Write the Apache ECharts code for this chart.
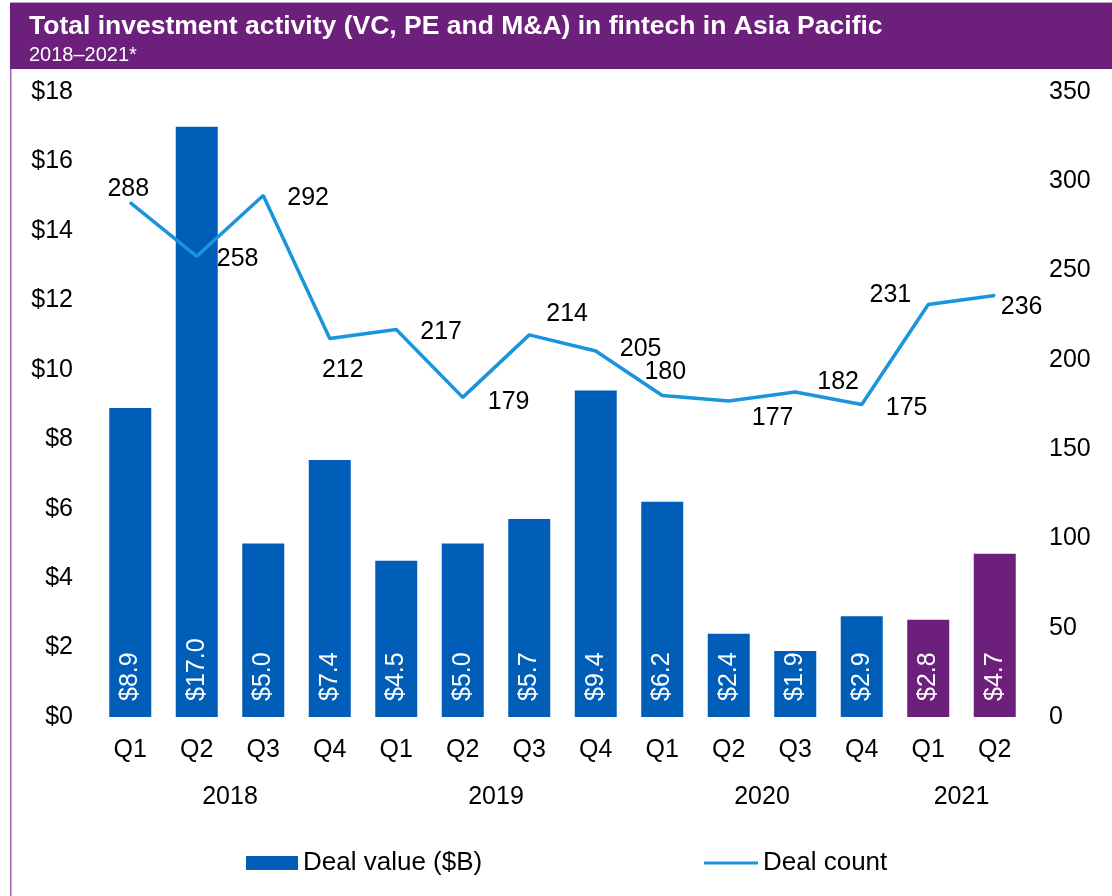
<!DOCTYPE html>
<html>
<head>
<meta charset="utf-8">
<script src="https://cdn.jsdelivr.net/npm/echarts@6/dist/echarts.min.js"></script>
<style>
  html, body { margin: 0; padding: 0; background: #ffffff; }
  #chart { width: 1112px; height: 896px; }
</style>
</head>
<body>
<div id="chart"></div>
<script>
// Quarterly fintech investment in Asia Pacific, 2018 – Q2 2021
const quarters = ['Q1', 'Q2', 'Q3', 'Q4', 'Q1', 'Q2', 'Q3', 'Q4', 'Q1', 'Q2', 'Q3', 'Q4', 'Q1', 'Q2'];
const quarterYears = ['2018', '2018', '2018', '2018', '2019', '2019', '2019', '2019', '2020', '2020', '2020', '2020', '2021', '2021'];
const years = ['2018', '2019', '2020', '2021'];
const dealValue = [8.9, 17.0, 5.0, 7.4, 4.5, 5.0, 5.7, 9.4, 6.2, 2.4, 1.9, 2.9, 2.8, 4.7];
const dealCount = [288, 258, 292, 212, 217, 179, 214, 205, 180, 177, 182, 175, 231, 236];
const valueTicks = [0, 18, 2];     // min, max, step of the $B axis
const countTicks = [0, 350, 50];   // min, max, step of the count axis

const FONT = '"Liberation Sans", Arial, sans-serif';
const BLUE = '#005EB8';
const PURPLE = '#6C1F7B';
const LINE = '#1A94DB';

// where each count label sits relative to its point
const countLabelPlacement = [
  { position: 'top', distance: 0, offset: [-2, 0] },
  { position: 'right', distance: 19, offset: [0, 3] },
  { position: 'right', distance: 23, offset: [0, 3] },
  { position: 'bottom', distance: 18, offset: [13, 0] },
  { position: 'right', distance: 23, offset: [0, 3] },
  { position: 'right', distance: 24, offset: [0, 5] },
  { position: 'right', distance: 16, offset: [0, -21] },
  { position: 'right', distance: 23, offset: [0, -2] },
  { position: 'top', distance: 10, offset: [3, 0] },
  { position: 'right', distance: 22, offset: [0, 17] },
  { position: 'right', distance: 21, offset: [0, -10] },
  { position: 'right', distance: 23, offset: [0, 4] },
  { position: 'left', distance: 16, offset: [0, -9] },
  { position: 'right', distance: 5, offset: [0, 12] }
];

// centre of each year's group of quarters, on the quarter-index scale
const yearCentres = {};
years.forEach(y => {
  const idx = quarterYears.map((q, i) => q === y ? i : -1).filter(i => i >= 0);
  yearCentres[(idx[0] + idx[idx.length - 1]) / 2] = y;
});

const chart = echarts.init(document.getElementById('chart'), null, { renderer: 'canvas' });

const option = {
  backgroundColor: '#ffffff',
  animation: false,
  textStyle: { fontFamily: FONT },
  graphic: [
    { type: 'rect', shape: { x: 10, y: 3, width: 1102, height: 66 }, style: { fill: '#6C1F7B' }, z: -1 },
    { type: 'rect', shape: { x: 10, y: 69, width: 1.5, height: 827 }, style: { fill: '#9A62A8' }, z: -1 },
    { type: 'rect', shape: { x: 10, y: 2, width: 1102, height: 1 }, style: { fill: '#B9A6BF' }, z: -1 }
  ],
  title: {
    text: 'Total investment activity (VC, PE and M&A) in fintech in Asia Pacific',
    subtext: '2018\u20132021*',
    left: 24,
    top: 8,
    itemGap: 5,
    textStyle: { color: '#ffffff', fontSize: 26.5, fontWeight: 'bold', fontFamily: FONT },
    subtextStyle: { color: '#ffffff', fontSize: 20, fontFamily: FONT }
  },
  legend: [
    {
      left: 246, top: 850, padding: 0,
      itemWidth: 52, itemHeight: 14, itemGap: 5,
      data: [{ name: 'Deal value ($B)', icon: 'rect', itemStyle: { color: BLUE } }],
      textStyle: { fontSize: 26, color: '#000', fontFamily: FONT },
      selectedMode: false
    },
    {
      left: 704, top: 850, padding: 0,
      itemWidth: 54, itemHeight: 14, itemGap: 5,
      data: [{ name: 'Deal count', icon: 'path://M0,6 L54,6 L54,9 L0,9 Z', itemStyle: { color: LINE } }],
      textStyle: { fontSize: 26, color: '#000', fontFamily: FONT },
      selectedMode: false
    }
  ],
  grid: { left: 97, right: 84, top: 92, bottom: 179, containLabel: false },
  xAxis: [
    {
      type: 'category',
      data: quarters,
      axisLine: { show: false },
      axisTick: { show: false },
      axisLabel: { color: '#000', fontSize: 25, margin: 21, fontFamily: FONT, interval: 0 }
    },
    {
      type: 'value',
      position: 'bottom',
      offset: 47,
      min: -0.5,
      max: quarters.length - 0.5,
      interval: 0.5,
      axisLine: { show: false },
      axisTick: { show: false },
      splitLine: { show: false },
      axisLabel: {
        color: '#000', fontSize: 25, margin: 21, fontFamily: FONT,
        showMinLabel: true, showMaxLabel: true,
        formatter: v => yearCentres[v] || ''
      }
    }
  ],
  yAxis: [
    {
      type: 'value',
      min: valueTicks[0], max: valueTicks[1], interval: valueTicks[2],
      axisLine: { show: false },
      axisTick: { show: false },
      splitLine: { show: false },
      axisLabel: { color: '#000', fontSize: 25, margin: 24, fontFamily: FONT, formatter: v => '$' + v }
    },
    {
      type: 'value',
      min: countTicks[0], max: countTicks[1], interval: countTicks[2],
      axisLine: { show: false },
      axisTick: { show: false },
      splitLine: { show: false },
      axisLabel: { color: '#000', fontSize: 25, margin: 21, fontFamily: FONT }
    }
  ],
  series: [
    {
      name: 'Deal value ($B)',
      type: 'bar',
      xAxisIndex: 0,
      yAxisIndex: 0,
      barWidth: 42,
      data: dealValue.map((v, i) => ({
        value: v,
        itemStyle: { color: quarterYears[i] === '2021' ? PURPLE : BLUE }
      })),
      label: {
        show: true,
        position: 'insideBottom',
        rotate: 90,
        align: 'left',
        verticalAlign: 'middle',
        distance: 16,
        color: '#ffffff',
        fontSize: 25,
        fontFamily: FONT,
        formatter: p => '$' + p.value.toFixed(1)
      }
    },
    {
      name: 'Deal count',
      type: 'line',
      xAxisIndex: 0,
      yAxisIndex: 1,
      symbol: 'circle',
      symbolSize: 2,
      showSymbol: true,
      lineStyle: { color: LINE, width: 3.5 },
      itemStyle: { color: LINE },
      z: 3,
      data: dealCount.map((v, i) => ({
        value: v,
        label: Object.assign({ show: true }, countLabelPlacement[i])
      })),
      label: { show: true, color: '#000', fontSize: 25, fontFamily: FONT }
    }
  ]
};

chart.setOption(option);
</script>
</body>
</html>
